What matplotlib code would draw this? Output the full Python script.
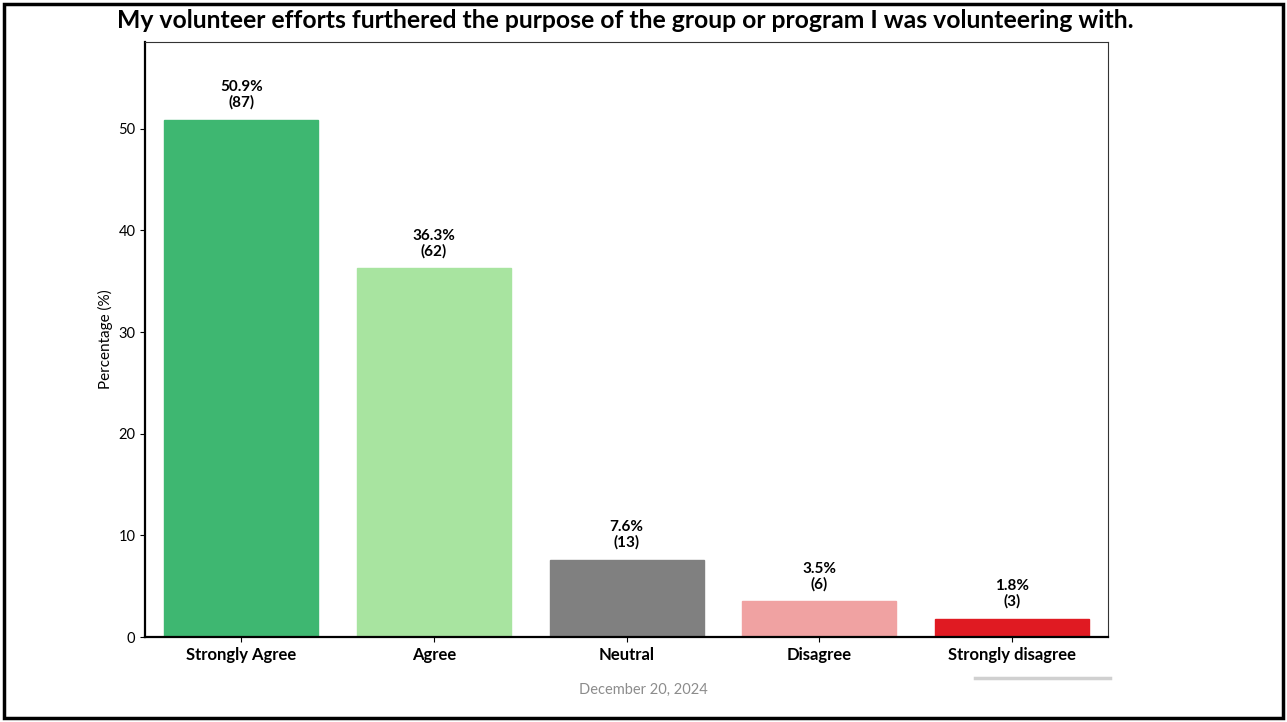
import matplotlib.pyplot as plt
from matplotlib.patches import Rectangle
from matplotlib.lines import Line2D

# survey responses
categories = ["Strongly Agree", "Agree", "Neutral", "Disagree", "Strongly disagree"]
percentages = [50.9, 36.3, 7.6, 3.5, 1.8]
counts = [87, 62, 13, 6, 3]
colors = ["#3eb771", "#a8e4a0", "#808080", "#f0a2a2", "#e01a22"]

title = "My volunteer efforts furthered the purpose of the group or program I was volunteering with."
date_text = "December 20, 2024"

plt.rcParams['font.family'] = ['Lato', 'DejaVu Sans']

fig = plt.figure(figsize=(12.87, 7.22), dpi=100)
ax = fig.add_axes([0.1127, 0.1177, 0.7483, 0.8241])

x = range(len(categories))
bars = ax.bar(x, percentages, width=0.8, color=colors, edgecolor=colors)

for b, p, c in zip(bars, percentages, counts):
    ax.annotate(f"{p}%\n({c})", (b.get_x() + b.get_width() / 2, b.get_height()),
                xytext=(0, 7), textcoords="offset points", ha="center", va="bottom",
                fontsize=11, fontweight="bold", linespacing=1.1)

ax.set_xlim(-0.5, len(categories) - 0.5)
ax.set_ylim(0, max(percentages) * 1.15)
ax.set_yticks([0, 10, 20, 30, 40, 50])
ax.set_xticks(list(x))
ax.set_xticklabels(categories, fontsize=12, fontweight="bold")
ax.tick_params(axis="y", labelsize=10.5)
ax.set_ylabel("Percentage (%)", fontsize=11, labelpad=4)

for s in ["left", "bottom"]:
    ax.spines[s].set_linewidth(1.6)
    ax.spines[s].set_color("black")
for s in ["top", "right"]:
    ax.spines[s].set_linewidth(0.8)
    ax.spines[s].set_color("#333333")

fig.text(0.486, 0.972, title, ha="center", va="center", fontsize=17.8, fontweight="bold")
fig.text(0.4996, 0.044, date_text, ha="center", va="center", fontsize=10.5, color="#8c8c8c")

# faint line bottom right
fig.add_artist(Line2D([975 / 1287, 1110 / 1287], [1 - 678 / 722, 1 - 678 / 722],
                      color="#d0d0d0", linewidth=2.5, transform=fig.transFigure))

# slide frame
fig.add_artist(Rectangle((4 / 1287, 4 / 722), 1 - 8 / 1287, 1 - 8 / 722,
                         fill=False, edgecolor="black", linewidth=2.5,
                         transform=fig.transFigure))

fig.savefig("out.png", dpi=100)
